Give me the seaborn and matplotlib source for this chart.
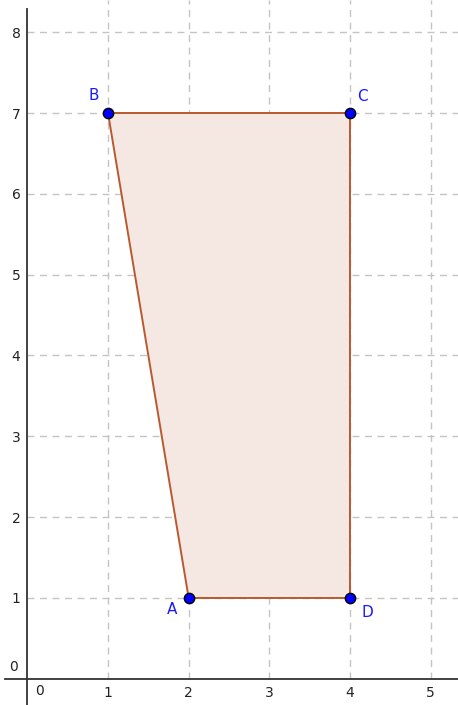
import numpy as np
import pandas as pd
import matplotlib
matplotlib.use('Agg')
import matplotlib.pyplot as plt
import seaborn as sns

# polygon vertices A, B, C, D
names = ['A', 'B', 'C', 'D']
xs = [2, 1, 4, 4]
ys = [1, 7, 7, 1]
x_ticks = [1, 2, 3, 4, 5]
y_ticks = [1, 2, 3, 4, 5, 6, 7, 8]

sns.set_style('white')
plt.rcParams['font.family'] = ['DejaVu Sans']

fig = plt.figure(figsize=(4.58, 7.05), dpi=100)
ax = fig.add_axes([0, 0, 1, 1])

x0, x1 = -0.339, 5.339
y0, y1 = -0.324, 8.398
ax.set_xlim(x0, x1)
ax.set_ylim(y0, y1)

# dashed grid, only in the positive quadrant
grid_kw = dict(color='#c4c4c4', linestyle=(0, (5, 4)), linewidth=1, zorder=0)
ax.vlines(x_ticks, 0, y1, **grid_kw)
ax.hlines(y_ticks, 0, x1, **grid_kw)

# axes through the origin
for s in ['top', 'right']:
    ax.spines[s].set_visible(False)
ax.spines['left'].set_position(('data', 0))
ax.spines['bottom'].set_position(('data', 0))
ax.spines['left'].set_bounds(y0, 8.29)
ax.spines['bottom'].set_bounds(-0.276, x1)
for s in ['left', 'bottom']:
    ax.spines[s].set_color('#333333')
    ax.spines[s].set_linewidth(1.3)

ax.set_xticks(x_ticks)
ax.set_yticks(y_ticks)
ax.tick_params(direction='out', length=3, width=1, colors='#333333',
               labelsize=10, pad=2, labelcolor='#222222')
ax.text(0.15, -0.06, '0', ha='center', va='top', fontsize=10, color='#222222')
ax.text(-0.17, 0.06, '0', ha='center', va='bottom', fontsize=10, color='#222222')

# polygon
ax.fill(xs, ys, facecolor='#f5e8e3', edgecolor='#b9592f', linewidth=1.4, zorder=2)

df = pd.DataFrame({'x': xs, 'y': ys, 'name': names})
sns.scatterplot(data=df, x='x', y='y', ax=ax, color='#0000ff', edgecolor='black',
                linewidth=1, s=55, zorder=4, legend=False)
ax.set_xlabel('')
ax.set_ylabel('')

offsets = {'A': (-0.2, -0.14), 'B': (-0.18, 0.22), 'C': (0.15, 0.2), 'D': (0.22, -0.18)}
for n, x, y in zip(names, xs, ys):
    dx, dy = offsets[n]
    ax.text(x + dx, y + dy, n, color='#1a1aff', fontsize=11,
            ha='center', va='center', zorder=5)

fig.savefig('out.png', dpi=100)
